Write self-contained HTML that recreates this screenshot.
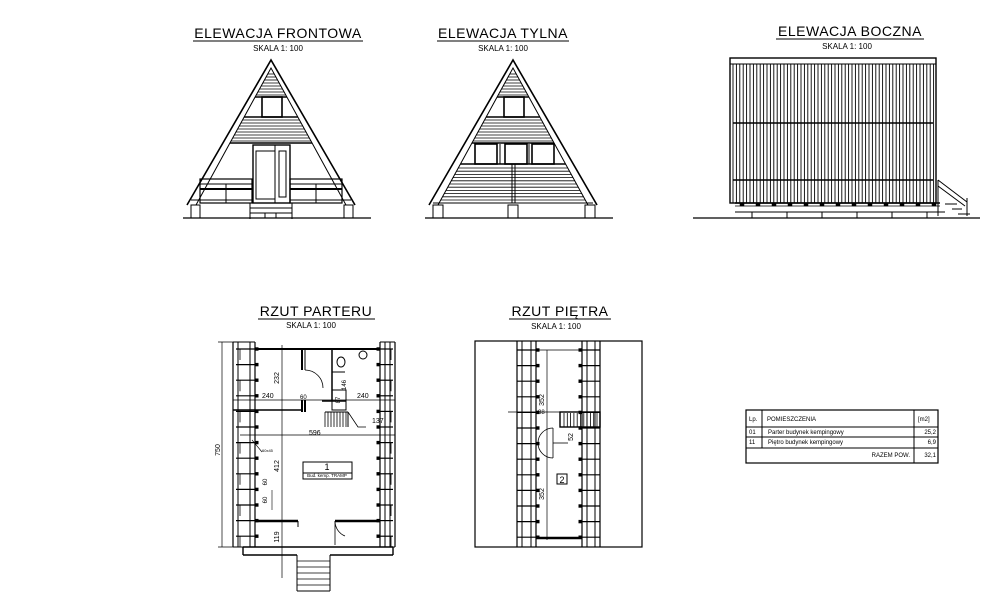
<!DOCTYPE html>
<html><head><meta charset="utf-8"><style>
html,body{margin:0;padding:0;background:#fff;}
svg{display:block;}
text{font-family:"Liberation Sans",sans-serif;fill:#000;}
</style></head><body>
<svg id="s" width="1000" height="597" viewBox="0 0 1000 597" xmlns="http://www.w3.org/2000/svg">
<g stroke="#000" fill="none" stroke-width="1" id="g"></g>
<g id="t">
<text x="278" y="38" font-size="14" text-anchor="middle" letter-spacing="0.5">ELEWACJA  FRONTOWA</text>
<line x1="193" y1="41" x2="363" y2="41" stroke="#000"/>
<text x="278" y="51" font-size="8" text-anchor="middle">SKALA  1: 100</text>
<text x="503" y="38" font-size="14" text-anchor="middle" letter-spacing="0.5">ELEWACJA  TYLNA</text>
<line x1="437" y1="41" x2="569" y2="41" stroke="#000"/>
<text x="503" y="51" font-size="8" text-anchor="middle">SKALA  1: 100</text>
<text x="850" y="36" font-size="14" text-anchor="middle" letter-spacing="0.5">ELEWACJA  BOCZNA</text>
<line x1="776" y1="39" x2="924" y2="39" stroke="#000"/>
<text x="847" y="49" font-size="8" text-anchor="middle">SKALA  1: 100</text>
<text x="316" y="316" font-size="14" text-anchor="middle" letter-spacing="0.5">RZUT  PARTERU</text>
<line x1="258" y1="319" x2="375" y2="319" stroke="#000"/>
<text x="311" y="328" font-size="8" text-anchor="middle">SKALA  1: 100</text>
<text x="560" y="316" font-size="14" text-anchor="middle" letter-spacing="0.5">RZUT  PIĘTRA</text>
<line x1="509" y1="319" x2="611" y2="319" stroke="#000"/>
<text x="556" y="329" font-size="8" text-anchor="middle">SKALA  1: 100</text>
<text transform="translate(220,450) rotate(-90)" font-size="7" text-anchor="middle">750</text>
<text transform="translate(279,378) rotate(-90)" font-size="7" text-anchor="middle">232</text>
<text transform="translate(279,466) rotate(-90)" font-size="7" text-anchor="middle">412</text>
<text transform="translate(279,537) rotate(-90)" font-size="7" text-anchor="middle">119</text>
<text transform="translate(267,500) rotate(-90)" font-size="6" text-anchor="middle">60</text>
<text transform="translate(267,482) rotate(-90)" font-size="6" text-anchor="middle">60</text>
<text transform="translate(346,385) rotate(-90)" font-size="6" text-anchor="middle">146</text>
<text transform="translate(340,400) rotate(-90)" font-size="6" text-anchor="middle">87</text>
<text x="262" y="398" font-size="7">240</text>
<text x="357" y="398" font-size="7">240</text>
<text x="300" y="399" font-size="6">60</text>
<text x="309" y="435" font-size="7">596</text>
<text x="372" y="423" font-size="7">137</text>
<text x="262" y="452" font-size="4">60x45</text>
<text x="327" y="470" font-size="9" text-anchor="middle">1</text>
<text x="327" y="477" font-size="4.5" text-anchor="middle">Bud. kemp. TRAMP</text>
<text transform="translate(544,400) rotate(-90)" font-size="7" text-anchor="middle">352</text>
<text transform="translate(544,494) rotate(-90)" font-size="7" text-anchor="middle">352</text>
<text transform="translate(573,437) rotate(-90)" font-size="7" text-anchor="middle">52</text>
<text x="538" y="414" font-size="6">88</text>
<text x="562" y="483" font-size="9" text-anchor="middle">2</text>
<text x="749" y="421" font-size="6">Lp.</text>
<text x="767" y="421" font-size="6">POMIESZCZENIA</text>
<text x="918" y="421" font-size="6">[m2]</text>
<text x="749" y="434" font-size="6">01</text>
<text x="768" y="434" font-size="6">Parter  budynek  kempingowy</text>
<text x="936" y="434" font-size="6" text-anchor="end">25,2</text>
<text x="749" y="444" font-size="6">11</text>
<text x="768" y="444" font-size="6">Piętro  budynek  kempingowy</text>
<text x="936" y="444" font-size="6" text-anchor="end">6,9</text>
<text x="910" y="457" font-size="6" text-anchor="end">RAZEM  POW.</text>
<text x="936" y="457" font-size="6" text-anchor="end">32,1</text>
</g>
</svg>
<script>
var g=document.getElementById('g'),NS='http://www.w3.org/2000/svg';
function E(n,a){var e=document.createElementNS(NS,n);for(var k in a)e.setAttribute(k,a[k]);g.appendChild(e);return e;}
function L(x1,y1,x2,y2,w){return E('line',{x1:x1,y1:y1,x2:x2,y2:y2,'stroke-width':w||1});}
function R(x,y,w,h,sw,f){return E('rect',{x:x,y:y,width:w,height:h,'stroke-width':sw||1,fill:f||'none'});}
function P(d,w){return E('path',{d:d,'stroke-width':w||1});}
function elev(cx,back){
  P('M'+(cx-84)+',205 L'+cx+',60 L'+(cx+84)+',205',1.6);
  P('M'+(cx-75)+',205 L'+cx+',68 L'+(cx+75)+',205',1);
  function xl(y){return cx-(y-68)*75/137;}
  function xr(y){return cx+(y-68)*75/137;}
  function band(y0,y1,st){for(var y=y0;y<=y1;y+=st)L(xl(y),y,xr(y),y,0.8);}
  band(74,95,3);L(xl(97),97,xr(97),97,1.4);
  R(cx-9,97,20,20,1.6);
  L(xl(117),117,xr(117),117,1.4);band(120,141,3);L(xl(143),143,xr(143),143,1.4);
  if(!back){
    R(cx-18,145,37,58,1.4);R(cx-15,151,19,48,1);R(cx+8,151,7,46,1);L(cx+4,145,cx+4,203,1);
    R(cx-71,179,52,24,1.2);L(cx-71,184,cx-19,184,1);L(cx-71,189,cx-19,189,2);L(cx-45,184,cx-45,203,1);
    R(cx+19,179,52,24,1.2);L(cx+19,184,cx+71,184,1);L(cx+19,189,cx+71,189,2);L(cx+45,184,cx+45,203,1);
    L(cx-21,203,cx+21,203);L(cx-21,208,cx+21,208);L(cx-21,213,cx+21,213);L(cx-21,203,cx-21,219);L(cx+21,203,cx+21,219);
    R(cx-6,213,11,5);
    L(cx-80,200,cx-18,200);L(cx+19,200,cx+80,200);
    R(cx-80,205,9,13);R(cx+73,205,9,13);
  } else {
    R(cx-38,144,22,20,1.6);R(cx-8,144,22,20,1.6);R(cx+19,144,22,20,1.6);
    L(cx-13,144,cx-13,164);L(cx+16,144,cx+16,164);
    L(xl(164),164,xr(164),164,1.6);band(168,200,3.2);
    L(cx-1,164,cx-1,203);L(cx+2,164,cx+2,203);
    L(cx-80,203,cx+80,203);
    R(cx-80,205,10,13);R(cx-5,205,10,13);R(cx+72,205,10,13);
  }
  L(cx-88,218,cx+100,218,1.2);
}
elev(271,false);elev(513,true);
R(730,58,206,145,1.4);L(730,64,936,64);
for(var x=733;x<934;x+=3.4)L(x,64,x,203,0.9);
L(733,123,933,123,1.4);L(733,180,933,180,1.4);
L(735,203,940,203,1.4);L(735,212,945,212,1);L(735,206,940,206,0.8);
for(var x=740;x<940;x+=16)R(x,203,4,3,0.5,'#000');
for(var x=752;x<940;x+=35)L(x,212,x,218);
L(693,218,980,218,1.2);
L(938,180,967,202);L(938,186,965,206);L(938,180,938,216);L(967,198,967,216);
L(945,204,957,204);L(952,209,962,209);L(958,214,970,214);
function col(x1,x2,x3,x4,y0,y1){L(x1,y0,x1,y1,1.2);L(x2,y0,x2,y1);L(x3,y0,x3,y1);L(x4,y0,x4,y1,1.2);L(x1,y0,x4,y0);L(x1,y1,x4,y1);}
col(233,238,250,255,342,547);col(380,385,390,395,342,547);
var i=0;
for(var y=349;y<546;y+=15.6,i++){L(236,y,258,y,1.2);R(255,y-1.2,3,2.4,0,'#000');L(377,y,393,y,1.2);R(377,y-1.2,3,2.4,0,'#000');
 if(i%2==0){L(240,y,240,y+11,0.8);L(391,y,391,y+11,0.8);}}
L(255,349,380,349,2);
L(222,342,222,547,0.7);L(218,342,238,342,0.7);L(218,547,238,547,0.7);
L(282,345,282,578,0.7);
L(302,349,302,370,2);L(305,349,305,370);L(302,400,302,412,2);L(305,400,305,412,2);
P('M305,370 A18,18 0 0,1 323,388',0.8);
L(332,349,332,400,1.5);L(332,372,345,372);
E('ellipse',{cx:341,cy:362,rx:4,ry:5,'stroke-width':1});E('circle',{cx:363,cy:355,r:4,'stroke-width':1});
L(233,400,395,400,0.8);L(233,410,302,410,1.5);L(322,401,346,401,1.5);R(332,390,14,20,1);
for(var x=325;x<348;x+=3)L(x,412,x,427,0.8);L(325,412,348,412);L(348,412,348,427);
P('M348,412 L358,427 L366,427',0.8);
L(240,435,395,435,0.8);
L(255,521,298,521,2.4);L(335,521,380,521,2.4);L(298,521,298,527);
P('M335,521 A16,16 0 0,0 345,536',0.8);L(335,521,335,545,0.8);
R(303,462,49,17,1);L(303,473,352,473);
L(243,547,393,547,1.5);L(243,547,243,555,1.4);L(393,547,393,555,1.4);L(243,555,297,555,1.4);L(330,555,393,555,1.4);
L(297,555,297,591);L(330,555,330,591);L(297,591,330,591);
for(var y=561;y<591;y+=6)L(297,y,330,y,0.8);
L(252,440,262,452,0.6);L(272,490,272,510,0.6);
R(475,341,167,206,1.2);
col(517,522,531,536,341,547);col(582,587,595,600,341,547);
for(var y=350;y<540;y+=15.6){L(517,y,539,y,1.2);R(536,y-1.2,3,2.4,0,'#000');L(579,y,600,y,1.2);R(579,y-1.2,3,2.4,0,'#000');}
L(536,350,582,350,0.8);L(536,538,582,538,2.4);
L(547,350,547,540,0.7);L(508,412,560,412,0.8);
R(560,412,40,15,1.4);for(var x=564;x<600;x+=3.3)L(x,413,x,427,0.8);
P('M553,428 A15,15 0 0,0 553,458',0.8);L(553,443,568,443,0.8);L(553,428,553,458,0.8);
R(557,474,10,10,1);
R(746,410,192,53,1.2);L(746,427,938,427);L(746,437,938,437);L(746,448,938,448);
L(762,410,762,448);L(914,410,914,463);
</script>
</body></html>
